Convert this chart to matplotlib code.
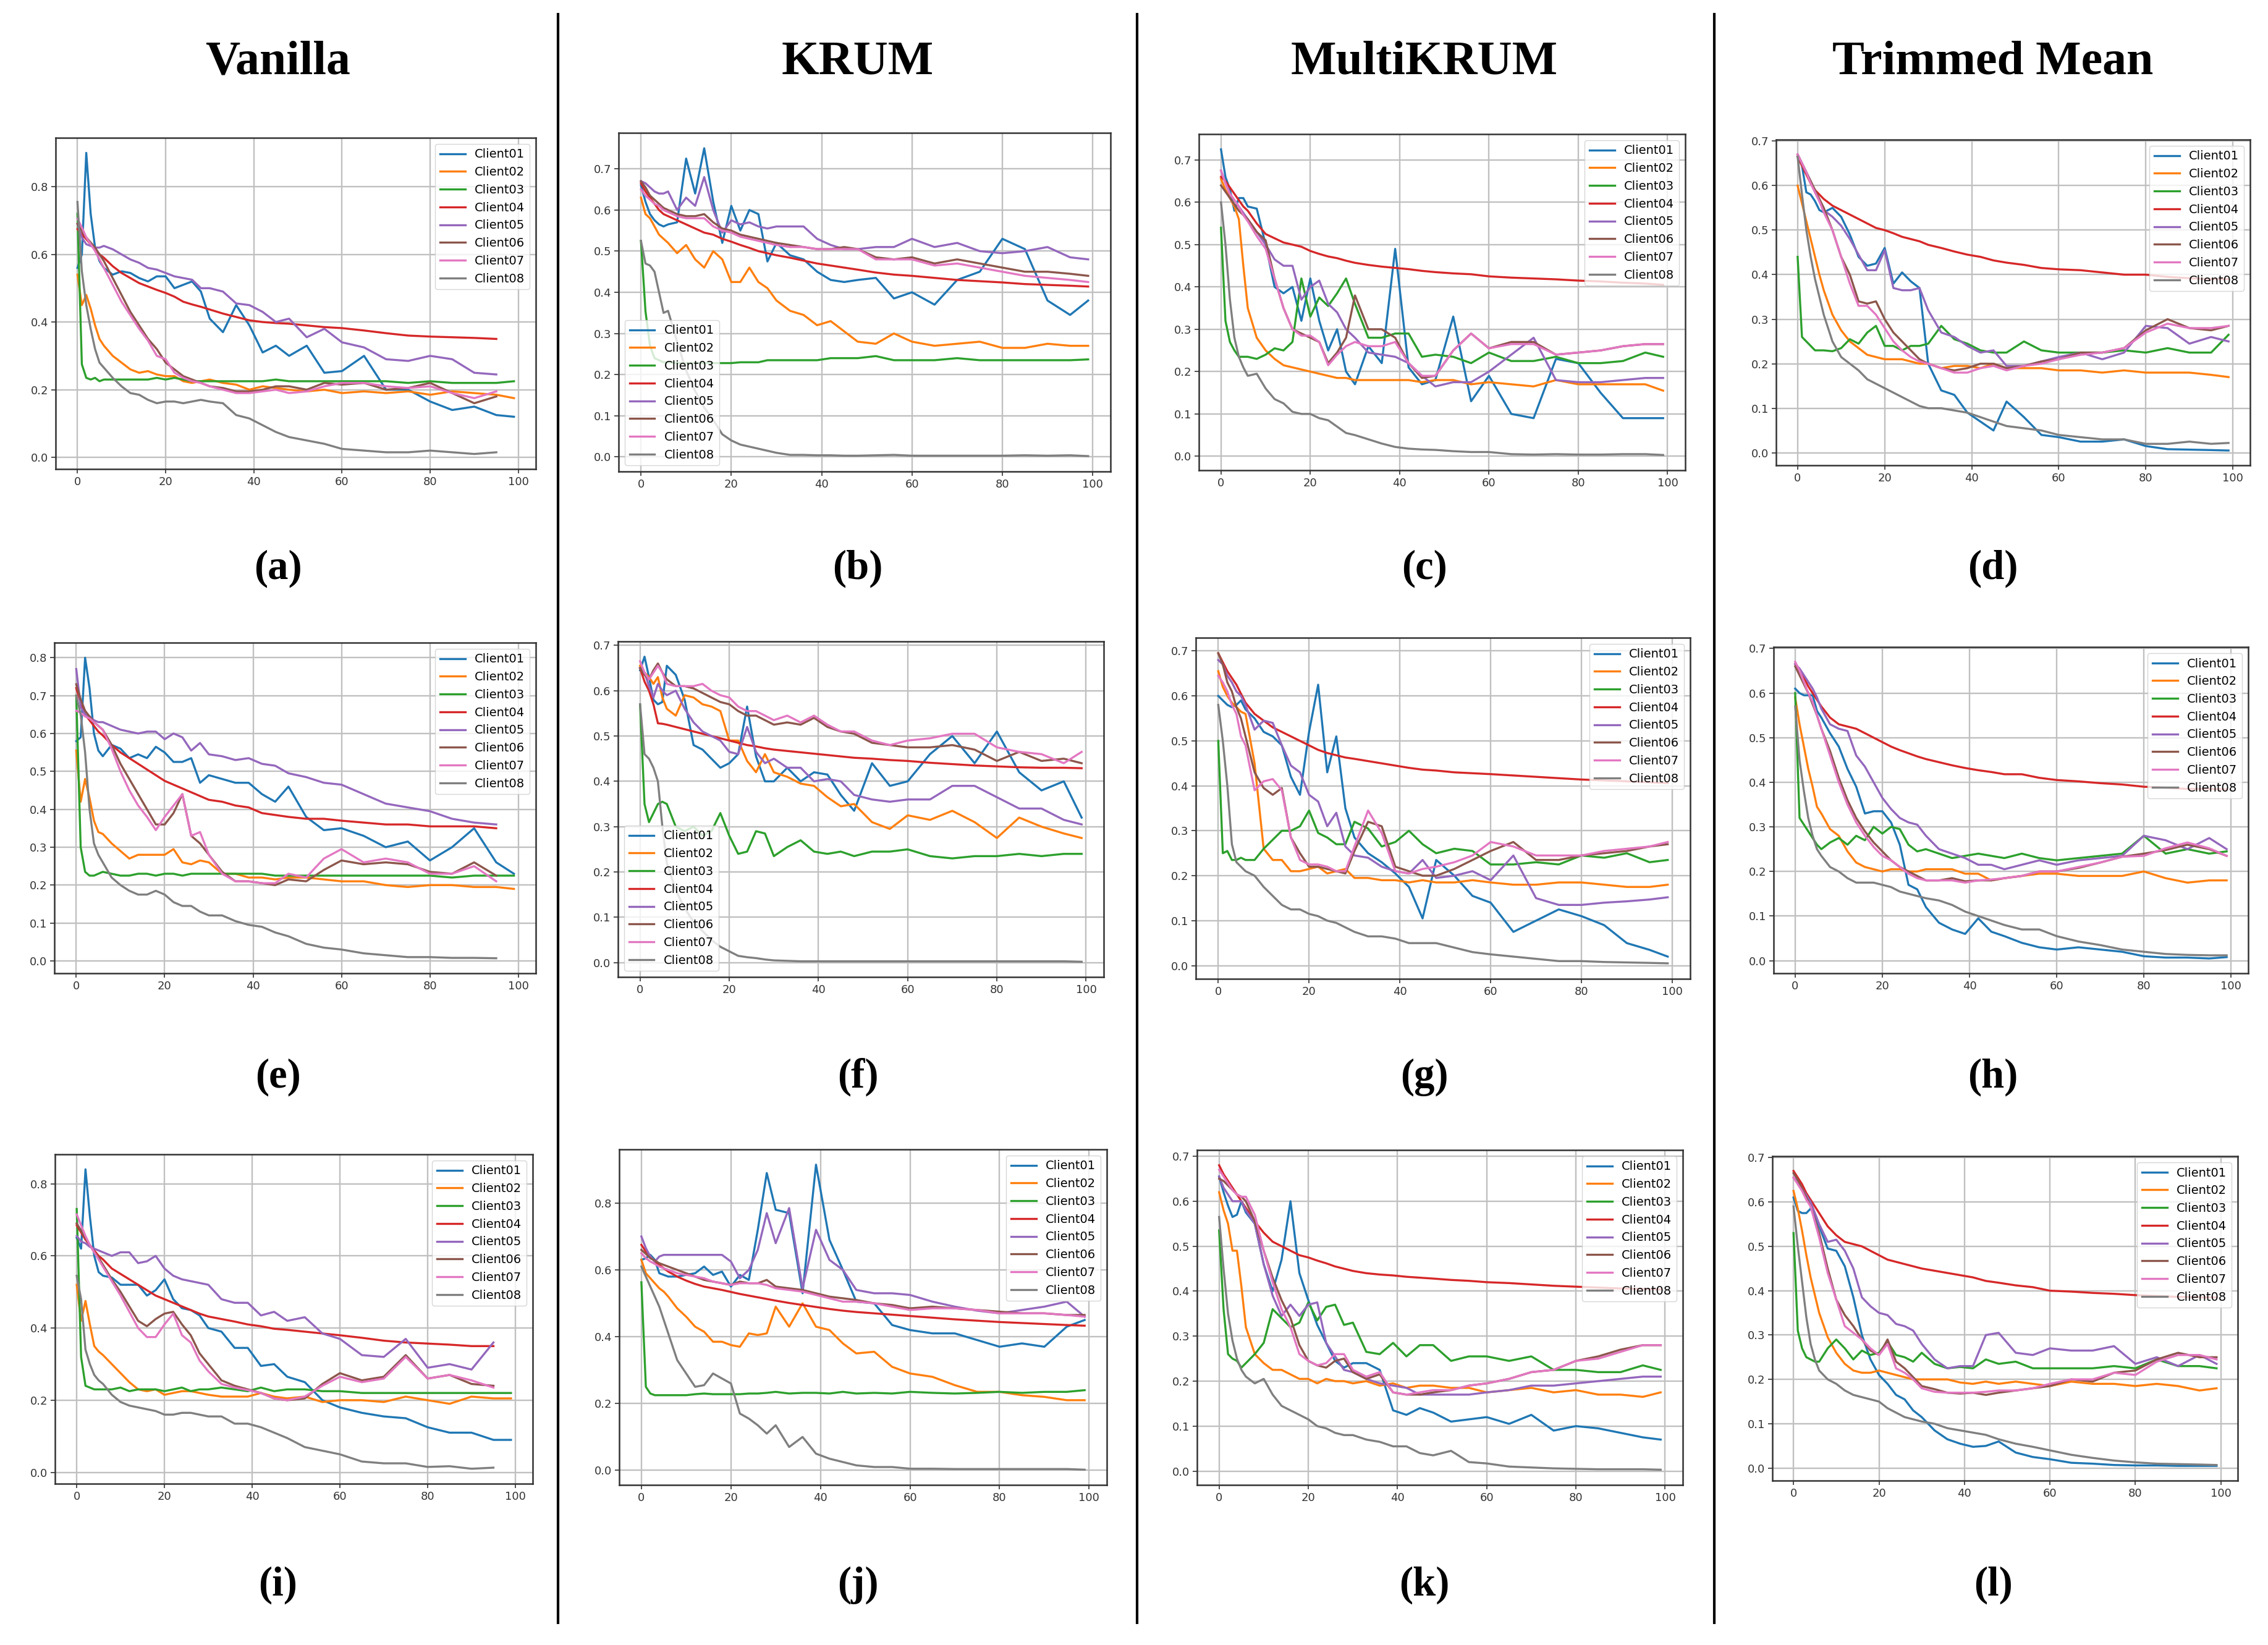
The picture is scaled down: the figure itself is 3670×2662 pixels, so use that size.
import numpy as np
import matplotlib
matplotlib.use("Agg")
import matplotlib.pyplot as plt
from matplotlib.ticker import MultipleLocator

nan = float("nan")

# shared sampling of the training rounds
X = [0, 1, 2, 3, 4, 5, 6, 8, 10, 12, 14, 16, 18, 20, 22, 24, 26, 28, 30,
     33, 36, 39, 42, 45, 48, 52, 56, 60, 65, 70, 75, 80, 85, 90, 95, 99]

CLIENTS = ["Client01", "Client02", "Client03", "Client04",
           "Client05", "Client06", "Client07", "Client08"]
COLUMN_TITLES = ["Vanilla", "KRUM", "MultiKRUM", "Trimmed Mean"]
PANEL_LABELS = ["(a)", "(b)", "(c)", "(d)", "(e)", "(f)",
                "(g)", "(h)", "(i)", "(j)", "(k)", "(l)"]

# ---------------- (a) Vanilla, row 1
a01 = [0.56,0.60,0.90,0.72,0.62,0.58,0.56, 0.54,0.55,0.545,0.53,0.52,0.535,0.535,0.50,0.51,0.52,0.49,0.41, 0.37,0.45,0.39,0.31,0.33,0.30, 0.33,0.25,0.255, 0.30,0.20,0.20,0.165,0.14,0.15,0.125,0.12]
a02 = [0.54,0.45,0.48,0.44,0.39,0.35,0.33, 0.30,0.28,0.26,0.25,0.255,0.245,0.24,0.24,0.225,0.22,0.225,0.23, 0.22,0.215,0.20,0.21,0.205,0.20, 0.195,0.20,0.19, 0.195,0.19,0.195,0.185,0.195,0.19,0.185,0.175]
a03 = [0.72,0.275,0.235,0.23,0.235,0.225,0.23, 0.23,0.23,0.23,0.23,0.23,0.235,0.23,0.235,0.23,0.225,0.225,0.225, 0.225,0.225,0.225,0.225,0.23,0.225, 0.225,0.225,0.225, 0.225,0.225,0.22,0.225,0.22,0.22,0.22,0.225]
a04 = [0.675,0.66,0.645,0.63,0.615,0.60,0.59, 0.565,0.545,0.53,0.515,0.505,0.495,0.486,0.475,0.46,0.452,0.445,0.437, 0.425,0.415,0.405,0.40,0.397,0.395, 0.39,0.385,0.382, 0.375,0.367,0.36,0.357,0.355,0.353,0.35,nan]
a05 = [0.69,0.65,0.63,0.625,0.62,0.62,0.625, 0.615,0.60,0.585,0.575,0.56,0.555,0.545,0.535,0.53,0.525,0.50,0.50, 0.49,0.455,0.45,0.43,0.40,0.41, 0.355,0.38,0.34, 0.325,0.29,0.285,0.30,0.29,0.25,0.245,nan]
a06 = [0.69,0.67,0.65,0.635,0.62,0.60,0.58, 0.53,0.48,0.43,0.39,0.35,0.32,0.28,0.26,0.24,0.23,0.22,0.21, 0.205,0.195,0.195,0.20,0.21,0.21, 0.20,0.22,0.215, 0.22,0.20,0.205,0.22,0.19,0.16,0.18,nan]
a07 = [0.705,0.68,0.65,0.63,0.61,0.585,0.56, 0.51,0.46,0.42,0.38,0.345,0.30,0.29,0.25,0.235,0.225,0.22,0.21, 0.20,0.19,0.19,0.195,0.20,0.19, 0.195,0.21,0.22, 0.22,0.21,0.205,0.21,0.19,0.175,0.195,nan]
a08 = [0.755,0.55,0.45,0.38,0.32,0.28,0.265, 0.235,0.21,0.19,0.185,0.17,0.16,0.165,0.165,0.16,0.165,0.17,0.165, 0.16,0.125,0.115,0.095,0.075,0.06, 0.05,0.04,0.025, 0.02,0.015,0.015,0.02,0.015,0.01,0.015,nan]

# ---------------- (b) KRUM, row 1
b01 = [0.66,0.62,0.59,0.575,0.565,0.56,0.565, 0.57,0.725,0.64,0.75,0.62,0.52,0.61,0.55,0.60,0.59,0.475,0.52, 0.49,0.48,0.45,0.43,0.425,0.43, 0.435,0.385,0.40, 0.37,0.43,0.45,0.53,0.505,0.38,0.345,0.38]
b02 = [0.63,0.59,0.58,0.56,0.54,0.53,0.52, 0.495,0.515,0.48,0.46,0.50,0.48,0.425,0.425,0.46,0.425,0.41,0.38, 0.355,0.345,0.32,0.33,0.305,0.28, 0.275,0.30,0.28, 0.27,0.275,0.28,0.265,0.265,0.275,0.27,0.27]
b03 = [0.525,0.354,0.27,0.24,0.235,0.23,0.23, 0.228,0.228,0.228,0.228,0.228,0.228,0.228,0.23,0.23,0.23,0.235,0.235, 0.235,0.235,0.235,0.24,0.24,0.24, 0.245,0.235,0.235, 0.235,0.24,0.235,0.235,0.235,0.235,0.235,0.237]
b04 = [0.665,0.645,0.63,0.615,0.60,0.59,0.585, 0.575,0.565,0.555,0.545,0.54,0.53,0.523,0.515,0.508,0.50,0.495,0.49, 0.484,0.477,0.47,0.465,0.46,0.455, 0.448,0.443,0.44, 0.435,0.43,0.427,0.424,0.42,0.418,0.416,0.414]
b05 = [0.67,0.665,0.655,0.645,0.64,0.64,0.645, 0.60,0.63,0.61,0.68,0.60,0.545,0.575,0.565,0.57,0.56,0.555,0.56, 0.56,0.56,0.53,0.515,0.505,0.505, 0.51,0.51,0.53, 0.51,0.52,0.50,0.495,0.50,0.51,0.485,0.48]
b06 = [0.67,0.655,0.635,0.625,0.615,0.605,0.60, 0.59,0.585,0.585,0.59,0.57,0.555,0.55,0.54,0.535,0.53,0.525,0.52, 0.515,0.51,0.505,0.505,0.51,0.505, 0.485,0.48,0.485, 0.47,0.48,0.47,0.46,0.45,0.45,0.445,0.44]
b07 = [0.65,0.635,0.625,0.615,0.61,0.60,0.595, 0.585,0.58,0.58,0.58,0.56,0.55,0.545,0.535,0.53,0.525,0.52,0.515, 0.51,0.51,0.505,0.505,0.505,0.505, 0.48,0.48,0.48, 0.465,0.47,0.46,0.45,0.44,0.435,0.43,0.425]
b08 = [0.525,0.47,0.465,0.45,0.40,0.35,0.355, 0.28,0.21,0.16,0.12,0.09,0.055,0.04,0.03,0.025,0.02,0.015,0.01, 0.005,0.005,0.004,0.004,0.003,0.003, 0.004,0.005,0.003, 0.003,0.003,0.003,0.003,0.004,0.003,0.004,0.002]

# ---------------- (c) MultiKRUM, row 1
c01 = [0.725,0.66,0.63,0.58,0.61,0.61,0.59, 0.585,0.50,0.40,0.385,0.40,0.32,0.42,0.32,0.25,0.30,0.20,0.17, 0.26,0.22,0.49,0.21,0.17,0.18, 0.33,0.13,0.19, 0.10,0.09,0.23,0.22,0.15,0.09,0.09,0.09]
c02 = [0.655,0.63,0.61,0.59,0.56,0.45,0.35, 0.28,0.25,0.23,0.215,0.21,0.205,0.20,0.195,0.19,0.185,0.185,0.18, 0.18,0.18,0.18,0.18,0.175,0.18, 0.18,0.17,0.175, 0.17,0.165,0.18,0.17,0.17,0.17,0.17,0.155]
c03 = [0.54,0.32,0.27,0.25,0.235,0.235,0.235, 0.23,0.24,0.255,0.25,0.27,0.42,0.33,0.375,0.355,0.385,0.42,0.36, 0.28,0.28,0.29,0.29,0.235,0.24, 0.235,0.22,0.245, 0.225,0.225,0.235,0.22,0.22,0.225,0.245,0.235]
c04 = [0.66,0.65,0.635,0.62,0.605,0.59,0.58, 0.55,0.525,0.515,0.505,0.50,0.495,0.485,0.478,0.472,0.468,0.462,0.457, 0.452,0.448,0.445,0.442,0.438,0.435, 0.432,0.43,0.425, 0.422,0.42,0.418,0.415,0.413,0.41,0.408,0.405]
c05 = [0.675,0.645,0.62,0.605,0.59,0.575,0.56, 0.53,0.50,0.465,0.45,0.45,0.37,0.40,0.415,0.36,0.34,0.30,0.28, 0.245,0.24,0.235,0.22,0.19,0.165, 0.175,0.175,0.20, 0.24,0.28,0.18,0.175,0.175,0.18,0.185,0.185]
c06 = [0.64,0.625,0.61,0.595,0.58,0.57,0.56, 0.53,0.51,0.42,0.35,0.30,0.29,0.28,0.27,0.22,0.245,0.28,0.38, 0.30,0.30,0.28,0.22,0.185,0.19, 0.25,0.29,0.255, 0.27,0.27,0.24,0.245,0.25,0.26,0.265,0.265]
c07 = [0.675,0.645,0.62,0.605,0.59,0.57,0.555, 0.52,0.49,0.42,0.35,0.30,0.285,0.285,0.27,0.215,0.24,0.26,0.27, 0.26,0.26,0.27,0.22,0.19,0.19, 0.25,0.29,0.255, 0.265,0.265,0.24,0.245,0.25,0.26,0.265,0.265]
c08 = [0.60,0.50,0.37,0.28,0.235,0.21,0.19, 0.195,0.16,0.135,0.125,0.105,0.10,0.10,0.09,0.085,0.07,0.055,0.05, 0.04,0.03,0.022,0.018,0.016,0.015, 0.012,0.01,0.01, 0.005,0.004,0.005,0.004,0.004,0.005,0.005,0.003]

# ---------------- (d) Trimmed Mean, row 1
d01 = [0.665,0.645,0.585,0.58,0.565,0.545,0.54, 0.55,0.53,0.49,0.44,0.42,0.425,0.46,0.38,0.405,0.385,0.37,0.20, 0.14,0.13,0.09,0.07,0.05,0.115, 0.08,0.04,0.035, 0.025,0.025,0.03,0.015,0.008,0.007,0.006,0.005]
d02 = [0.60,0.56,0.52,0.48,0.44,0.40,0.365, 0.31,0.275,0.25,0.235,0.22,0.215,0.21,0.21,0.21,0.205,0.20,0.20, 0.19,0.195,0.195,0.19,0.20,0.19, 0.19,0.19,0.185, 0.185,0.18,0.185,0.18,0.18,0.18,0.175,0.17]
d03 = [0.44,0.26,0.25,0.24,0.23,0.23,0.23, 0.228,0.235,0.255,0.245,0.27,0.285,0.24,0.24,0.23,0.24,0.24,0.245, 0.285,0.255,0.245,0.23,0.225,0.225, 0.25,0.23,0.225, 0.225,0.225,0.23,0.225,0.235,0.225,0.225,0.265]
d04 = [0.665,0.645,0.625,0.605,0.59,0.58,0.57, 0.555,0.545,0.535,0.525,0.515,0.505,0.50,0.493,0.485,0.48,0.475,0.467, 0.46,0.452,0.445,0.44,0.432,0.427, 0.422,0.415,0.412, 0.41,0.405,0.40,0.40,0.395,0.392,0.39,0.39]
d05 = [0.67,0.65,0.63,0.61,0.585,0.565,0.545, 0.53,0.51,0.48,0.445,0.41,0.41,0.455,0.37,0.365,0.365,0.37,0.32, 0.27,0.26,0.24,0.225,0.23,0.195, 0.195,0.205,0.215, 0.225,0.21,0.225,0.285,0.28,0.245,0.26,0.25]
d06 = [0.67,0.65,0.63,0.61,0.59,0.57,0.55, 0.50,0.44,0.40,0.34,0.335,0.34,0.30,0.27,0.25,0.23,0.21,0.20, 0.19,0.185,0.19,0.20,0.20,0.19, 0.195,0.205,0.21, 0.225,0.225,0.235,0.275,0.30,0.28,0.275,0.285]
d07 = [0.67,0.65,0.63,0.605,0.585,0.565,0.54, 0.50,0.44,0.38,0.33,0.33,0.31,0.28,0.25,0.23,0.215,0.205,0.20, 0.19,0.18,0.18,0.19,0.195,0.185, 0.195,0.20,0.21, 0.22,0.225,0.235,0.27,0.29,0.28,0.28,0.285]
d08 = [0.665,0.58,0.50,0.44,0.39,0.35,0.31, 0.25,0.215,0.20,0.185,0.165,0.155,0.145,0.135,0.125,0.115,0.105,0.10, 0.10,0.095,0.09,0.08,0.07,0.06, 0.055,0.05,0.04, 0.035,0.03,0.03,0.02,0.02,0.025,0.02,0.022]

# ---------------- (e) Vanilla, row 2
e01 = [0.58,0.59,0.80,0.72,0.60,0.555,0.54, 0.57,0.56,0.535,0.545,0.535,0.565,0.55,0.525,0.525,0.535,0.47,0.49, 0.48,0.47,0.47,0.44,0.42,0.46, 0.38,0.345,0.35, 0.33,0.30,0.315,0.265,0.30,0.35,0.26,0.23]
e02 = [0.555,0.42,0.48,0.43,0.37,0.34,0.335, 0.31,0.29,0.27,0.28,0.28,0.28,0.28,0.295,0.26,0.255,0.265,0.26, 0.23,0.23,0.22,0.22,0.215,0.22, 0.22,0.215,0.21, 0.21,0.20,0.195,0.20,0.20,0.195,0.195,0.19]
e03 = [0.70,0.30,0.235,0.225,0.225,0.23,0.235, 0.23,0.225,0.225,0.23,0.23,0.225,0.23,0.23,0.225,0.23,0.23,0.23, 0.23,0.23,0.23,0.23,0.225,0.225, 0.225,0.225,0.225, 0.225,0.225,0.225,0.225,0.22,0.225,0.225,0.225]
e04 = [0.72,0.68,0.65,0.635,0.62,0.605,0.595, 0.57,0.55,0.535,0.52,0.505,0.49,0.475,0.465,0.455,0.445,0.435,0.425, 0.42,0.41,0.405,0.39,0.385,0.38, 0.375,0.375,0.37, 0.365,0.36,0.36,0.355,0.355,0.355,0.35,nan]
e05 = [0.77,0.67,0.65,0.645,0.635,0.63,0.63, 0.62,0.61,0.605,0.60,0.605,0.605,0.585,0.60,0.59,0.555,0.575,0.545, 0.54,0.53,0.535,0.52,0.515,0.495, 0.485,0.47,0.465, 0.44,0.415,0.405,0.395,0.375,0.365,0.36,nan]
e06 = [0.73,0.69,0.66,0.645,0.63,0.62,0.61, 0.57,0.52,0.48,0.44,0.40,0.36,0.36,0.39,0.44,0.33,0.31,0.28, 0.235,0.21,0.21,0.205,0.20,0.215, 0.21,0.24,0.265, 0.255,0.26,0.255,0.235,0.23,0.26,0.225,nan]
e07 = [0.66,0.655,0.645,0.64,0.63,0.62,0.61, 0.56,0.50,0.45,0.41,0.38,0.345,0.38,0.41,0.44,0.33,0.34,0.28, 0.23,0.21,0.21,0.205,0.205,0.23, 0.22,0.27,0.295, 0.26,0.27,0.26,0.23,0.23,0.25,0.21,nan]
e08 = [0.70,0.65,0.55,0.40,0.31,0.28,0.26, 0.22,0.20,0.185,0.175,0.175,0.185,0.175,0.155,0.145,0.145,0.13,0.12, 0.12,0.105,0.095,0.09,0.075,0.065, 0.045,0.035,0.03, 0.02,0.015,0.01,0.01,0.008,0.008,0.007,nan]

# ---------------- (f) KRUM, row 2
f01 = [0.645,0.675,0.63,0.58,0.57,0.575,0.655, 0.635,0.58,0.48,0.47,0.45,0.43,0.44,0.46,0.565,0.455,0.40,0.40, 0.43,0.40,0.42,0.415,0.37,0.335, 0.44,0.39,0.40, 0.46,0.50,0.44,0.51,0.42,0.38,0.40,0.32]
f02 = [0.655,0.64,0.63,0.615,0.63,0.585,0.56, 0.545,0.59,0.585,0.57,0.565,0.555,0.49,0.49,0.445,0.42,0.46,0.42, 0.41,0.395,0.39,0.365,0.345,0.35, 0.31,0.295,0.325, 0.315,0.335,0.31,0.275,0.32,0.30,0.285,0.275]
f03 = [0.57,0.35,0.31,0.33,0.35,0.355,0.35, 0.30,0.29,0.30,0.28,0.29,0.33,0.28,0.24,0.245,0.29,0.285,0.235, 0.255,0.27,0.245,0.24,0.245,0.235, 0.245,0.245,0.25, 0.235,0.23,0.235,0.235,0.24,0.235,0.24,0.24]
f04 = [0.65,0.62,0.60,0.57,0.528,0.527,0.525, 0.52,0.515,0.51,0.505,0.50,0.495,0.49,0.485,0.48,0.477,0.473,0.47, 0.467,0.464,0.461,0.458,0.455,0.452, 0.45,0.447,0.445, 0.441,0.438,0.435,0.433,0.431,0.43,0.43,0.429]
f05 = [0.65,0.64,0.61,0.585,0.615,0.60,0.59, 0.60,0.56,0.53,0.51,0.50,0.49,0.465,0.46,0.52,0.465,0.44,0.45, 0.43,0.43,0.40,0.405,0.40,0.37, 0.36,0.355,0.36, 0.36,0.39,0.39,0.365,0.34,0.34,0.315,0.305]
f06 = [0.65,0.635,0.625,0.645,0.66,0.64,0.625, 0.61,0.61,0.605,0.595,0.585,0.575,0.57,0.555,0.545,0.545,0.535,0.525, 0.53,0.525,0.54,0.52,0.51,0.505, 0.485,0.48,0.475, 0.475,0.48,0.47,0.445,0.465,0.445,0.45,0.44]
f07 = [0.665,0.64,0.625,0.64,0.655,0.64,0.615, 0.61,0.61,0.61,0.615,0.60,0.59,0.585,0.565,0.555,0.555,0.545,0.535, 0.545,0.53,0.545,0.525,0.51,0.51, 0.49,0.48,0.49, 0.495,0.505,0.505,0.475,0.465,0.46,0.44,0.465]
f08 = [0.57,0.46,0.45,0.43,0.40,0.30,0.22, 0.16,0.12,0.09,0.07,0.05,0.035,0.025,0.015,0.012,0.01,0.007,0.005, 0.004,0.003,0.003,0.003,0.003,0.003, 0.003,0.003,0.003, 0.003,0.003,0.003,0.003,0.003,0.003,0.003,0.002]

# ---------------- (g) MultiKRUM, row 2
g01 = [0.60,0.59,0.58,0.575,0.58,0.59,0.57, 0.55,0.52,0.51,0.49,0.42,0.38,0.52,0.625,0.43,0.51,0.35,0.285, 0.25,0.23,0.205,0.175,0.105,0.235, 0.20,0.155,0.14, 0.075,0.10,0.125,0.11,0.09,0.05,0.035,0.02]
g02 = [0.655,0.62,0.60,0.585,0.575,0.565,0.56, 0.45,0.26,0.235,0.235,0.21,0.21,0.215,0.22,0.205,0.21,0.215,0.195, 0.195,0.19,0.19,0.185,0.19,0.185, 0.185,0.19,0.185, 0.18,0.18,0.185,0.185,0.18,0.175,0.175,0.18]
g03 = [0.50,0.25,0.255,0.235,0.235,0.24,0.235, 0.235,0.26,0.28,0.30,0.30,0.31,0.345,0.295,0.285,0.27,0.27,0.32, 0.305,0.265,0.275,0.30,0.27,0.25, 0.26,0.255,0.225, 0.225,0.23,0.225,0.245,0.24,0.25,0.23,0.235]
g04 = [0.695,0.675,0.655,0.64,0.625,0.605,0.585, 0.56,0.545,0.53,0.52,0.51,0.50,0.49,0.48,0.473,0.468,0.463,0.46, 0.455,0.45,0.445,0.44,0.436,0.434, 0.43,0.428,0.426, 0.423,0.42,0.417,0.414,0.412,0.41,0.408,0.406]
g05 = [0.68,0.67,0.645,0.63,0.61,0.60,0.58, 0.525,0.545,0.54,0.49,0.445,0.43,0.38,0.365,0.31,0.34,0.265,0.245, 0.24,0.22,0.21,0.205,0.235,0.195, 0.20,0.21,0.19, 0.245,0.15,0.135,0.135,0.14,0.143,0.147,0.152]
g06 = [0.695,0.67,0.63,0.61,0.575,0.55,0.51, 0.43,0.395,0.38,0.395,0.285,0.25,0.22,0.22,0.215,0.21,0.205,0.255, 0.32,0.31,0.22,0.21,0.20,0.20, 0.215,0.235,0.255, 0.275,0.235,0.235,0.245,0.25,0.255,0.265,0.27]
g07 = [0.645,0.63,0.61,0.58,0.56,0.51,0.49, 0.39,0.41,0.415,0.39,0.285,0.235,0.225,0.225,0.22,0.21,0.21,0.265, 0.345,0.295,0.21,0.205,0.215,0.22, 0.23,0.245,0.275, 0.265,0.245,0.245,0.245,0.255,0.26,0.265,0.275]
g08 = [0.58,0.50,0.40,0.27,0.23,0.22,0.21, 0.20,0.175,0.155,0.135,0.125,0.125,0.115,0.11,0.10,0.095,0.085,0.075, 0.065,0.065,0.06,0.05,0.05,0.05, 0.04,0.03,0.025, 0.02,0.015,0.01,0.01,0.008,0.007,0.006,0.005]

# ---------------- (h) Trimmed Mean, row 2
h01 = [0.61,0.60,0.595,0.595,0.595,0.56,0.545, 0.51,0.48,0.43,0.39,0.33,0.335,0.335,0.31,0.26,0.17,0.16,0.12, 0.085,0.07,0.06,0.095,0.065,0.055, 0.04,0.03,0.025, 0.03,0.025,0.02,0.01,0.007,0.007,0.005,0.008]
h02 = [0.59,0.53,0.48,0.43,0.39,0.345,0.33, 0.295,0.28,0.245,0.22,0.21,0.205,0.20,0.205,0.205,0.20,0.20,0.205, 0.205,0.205,0.195,0.195,0.18,0.185, 0.19,0.195,0.195, 0.19,0.19,0.19,0.20,0.185,0.175,0.18,0.18]
h03 = [0.60,0.32,0.305,0.29,0.275,0.26,0.25, 0.265,0.275,0.26,0.28,0.27,0.30,0.285,0.30,0.295,0.26,0.245,0.25, 0.24,0.23,0.235,0.24,0.235,0.23, 0.24,0.23,0.225, 0.23,0.235,0.24,0.28,0.24,0.25,0.24,0.245]
h04 = [0.665,0.65,0.635,0.615,0.60,0.585,0.57, 0.545,0.53,0.525,0.52,0.51,0.50,0.49,0.48,0.472,0.465,0.458,0.452, 0.445,0.438,0.432,0.427,0.423,0.418, 0.418,0.41,0.405, 0.402,0.398,0.395,0.39,0.388,0.385,0.385,0.384]
h05 = [0.665,0.655,0.64,0.625,0.61,0.59,0.565, 0.53,0.52,0.515,0.46,0.435,0.40,0.365,0.34,0.32,0.31,0.305,0.28, 0.25,0.24,0.23,0.215,0.215,0.205, 0.215,0.225,0.215, 0.225,0.23,0.235,0.28,0.27,0.25,0.275,0.25]
h06 = [0.66,0.64,0.62,0.60,0.575,0.55,0.52, 0.47,0.41,0.36,0.32,0.29,0.265,0.245,0.225,0.21,0.20,0.19,0.18, 0.18,0.185,0.178,0.18,0.18,0.185, 0.19,0.20,0.20, 0.208,0.22,0.233,0.24,0.248,0.26,0.25,0.235]
h07 = [0.67,0.65,0.625,0.60,0.58,0.55,0.52, 0.46,0.40,0.35,0.31,0.28,0.255,0.235,0.225,0.21,0.195,0.185,0.18, 0.18,0.18,0.175,0.18,0.182,0.185, 0.19,0.20,0.20, 0.21,0.22,0.233,0.235,0.252,0.265,0.252,0.235]
h08 = [0.57,0.45,0.38,0.32,0.28,0.25,0.235, 0.21,0.20,0.185,0.175,0.175,0.175,0.17,0.165,0.155,0.15,0.145,0.14, 0.135,0.125,0.11,0.10,0.09,0.08, 0.07,0.07,0.055, 0.043,0.035,0.025,0.02,0.015,0.013,0.012,0.012]

# ---------------- (i) Vanilla, row 3
i01 = [0.65,0.62,0.84,0.71,0.60,0.555,0.545, 0.54,0.52,0.52,0.52,0.49,0.505,0.535,0.48,0.455,0.45,0.435,0.40, 0.39,0.345,0.345,0.295,0.30,0.265, 0.25,0.20,0.18, 0.165,0.155,0.15,0.125,0.11,0.11,0.09,0.09]
i02 = [0.52,0.42,0.475,0.41,0.35,0.335,0.325, 0.30,0.275,0.25,0.23,0.225,0.23,0.215,0.22,0.225,0.225,0.22,0.215, 0.21,0.21,0.21,0.22,0.21,0.205, 0.21,0.195,0.20, 0.20,0.195,0.21,0.20,0.19,0.21,0.205,0.205]
i03 = [0.73,0.32,0.24,0.235,0.23,0.23,0.23, 0.23,0.235,0.225,0.23,0.23,0.23,0.225,0.23,0.235,0.225,0.23,0.23, 0.235,0.23,0.225,0.235,0.225,0.23, 0.23,0.225,0.225, 0.22,0.22,0.22,0.22,0.22,0.22,0.22,0.22]
i04 = [0.685,0.665,0.645,0.63,0.615,0.60,0.59, 0.565,0.55,0.535,0.52,0.505,0.49,0.48,0.47,0.46,0.45,0.44,0.432, 0.425,0.418,0.41,0.405,0.398,0.395, 0.39,0.385,0.38, 0.373,0.365,0.36,0.357,0.354,0.35,0.35,nan]
i05 = [0.655,0.64,0.635,0.625,0.62,0.615,0.61, 0.60,0.61,0.61,0.58,0.585,0.60,0.565,0.545,0.535,0.53,0.525,0.52, 0.48,0.47,0.47,0.435,0.445,0.42, 0.43,0.385,0.37, 0.325,0.32,0.37,0.29,0.30,0.285,0.36,nan]
i06 = [0.69,0.67,0.65,0.63,0.61,0.595,0.575, 0.535,0.50,0.46,0.42,0.405,0.425,0.44,0.445,0.41,0.38,0.33,0.30, 0.255,0.24,0.23,0.22,0.205,0.20, 0.205,0.245,0.275, 0.255,0.265,0.325,0.26,0.27,0.245,0.24,nan]
i07 = [0.715,0.685,0.655,0.63,0.61,0.59,0.57, 0.53,0.49,0.445,0.40,0.375,0.375,0.41,0.44,0.38,0.36,0.31,0.28, 0.245,0.235,0.228,0.22,0.205,0.20, 0.21,0.24,0.265, 0.25,0.26,0.32,0.26,0.27,0.255,0.235,nan]
i08 = [0.545,0.48,0.34,0.30,0.27,0.255,0.245, 0.215,0.195,0.185,0.18,0.175,0.17,0.16,0.16,0.165,0.165,0.16,0.155, 0.155,0.135,0.135,0.125,0.11,0.095, 0.07,0.06,0.05, 0.03,0.025,0.025,0.015,0.017,0.01,0.013,nan]

# ---------------- (j) KRUM, row 3
j01 = [0.63,0.635,0.645,0.63,0.59,0.585,0.58, 0.58,0.585,0.59,0.61,0.585,0.595,0.55,0.585,0.57,0.72,0.89,0.78, 0.77,0.53,0.915,0.69,0.60,0.505, 0.50,0.435,0.42, 0.41,0.41,0.39,0.37,0.38,0.37,0.43,0.45]
j02 = [0.63,0.59,0.575,0.56,0.545,0.535,0.52, 0.485,0.46,0.43,0.415,0.385,0.385,0.375,0.37,0.41,0.405,0.41,0.49, 0.43,0.50,0.43,0.42,0.38,0.35, 0.355,0.31,0.29, 0.28,0.255,0.235,0.235,0.225,0.22,0.21,0.21]
j03 = [0.563,0.25,0.23,0.225,0.225,0.225,0.225, 0.225,0.225,0.228,0.23,0.228,0.228,0.228,0.228,0.23,0.23,0.232,0.235, 0.23,0.232,0.232,0.23,0.235,0.23, 0.232,0.23,0.235, 0.232,0.23,0.232,0.235,0.232,0.235,0.235,0.24]
j04 = [0.675,0.655,0.64,0.625,0.615,0.605,0.595, 0.58,0.568,0.558,0.55,0.545,0.54,0.534,0.528,0.523,0.518,0.513,0.508, 0.501,0.495,0.489,0.483,0.478,0.474, 0.47,0.466,0.462, 0.457,0.452,0.448,0.444,0.441,0.438,0.435,0.433]
j05 = [0.70,0.665,0.64,0.625,0.64,0.645,0.645, 0.645,0.645,0.645,0.645,0.645,0.645,0.625,0.575,0.60,0.66,0.77,0.68, 0.785,0.545,0.72,0.63,0.60,0.54, 0.53,0.53,0.525, 0.505,0.49,0.478,0.47,0.48,0.49,0.505,0.46]
j06 = [0.66,0.648,0.635,0.628,0.62,0.615,0.61, 0.60,0.59,0.58,0.57,0.565,0.56,0.555,0.565,0.56,0.56,0.57,0.55, 0.545,0.54,0.53,0.52,0.515,0.51, 0.50,0.495,0.485, 0.49,0.485,0.48,0.475,0.47,0.47,0.465,0.465]
j07 = [0.65,0.635,0.625,0.618,0.61,0.605,0.60, 0.59,0.585,0.58,0.575,0.565,0.56,0.555,0.56,0.56,0.56,0.555,0.545, 0.54,0.535,0.525,0.515,0.505,0.505, 0.50,0.49,0.48, 0.485,0.485,0.48,0.47,0.47,0.47,0.465,0.46]
j08 = [0.61,0.58,0.55,0.52,0.49,0.45,0.41, 0.33,0.29,0.25,0.255,0.29,0.275,0.26,0.17,0.155,0.135,0.11,0.135, 0.07,0.10,0.05,0.035,0.025,0.015, 0.01,0.01,0.005, 0.005,0.004,0.004,0.004,0.004,0.004,0.004,0.002]

# ---------------- (k) MultiKRUM, row 3
k01 = [0.655,0.62,0.59,0.565,0.57,0.60,0.575, 0.55,0.46,0.40,0.47,0.60,0.44,0.38,0.325,0.285,0.245,0.23,0.24, 0.24,0.225,0.135,0.125,0.14,0.13, 0.11,0.115,0.12, 0.105,0.125,0.09,0.10,0.095,0.085,0.075,0.07]
k02 = [0.62,0.58,0.55,0.49,0.49,0.41,0.32, 0.26,0.24,0.225,0.225,0.215,0.205,0.205,0.195,0.205,0.20,0.20,0.195, 0.20,0.19,0.195,0.185,0.19,0.19, 0.185,0.185,0.175, 0.18,0.185,0.175,0.18,0.17,0.17,0.165,0.175]
k03 = [0.535,0.36,0.26,0.25,0.245,0.23,0.24, 0.26,0.285,0.36,0.34,0.32,0.33,0.375,0.335,0.365,0.37,0.325,0.33, 0.265,0.26,0.285,0.255,0.28,0.28, 0.245,0.255,0.255, 0.245,0.255,0.225,0.225,0.22,0.22,0.235,0.225]
k04 = [0.68,0.66,0.645,0.63,0.615,0.60,0.585, 0.555,0.53,0.51,0.50,0.49,0.48,0.475,0.468,0.462,0.455,0.45,0.445, 0.44,0.437,0.435,0.432,0.43,0.428, 0.425,0.423,0.42, 0.418,0.415,0.412,0.41,0.408,0.406,0.405,0.404]
k05 = [0.655,0.63,0.615,0.60,0.60,0.60,0.58, 0.55,0.46,0.39,0.345,0.37,0.345,0.37,0.375,0.285,0.255,0.225,0.22, 0.205,0.195,0.19,0.185,0.17,0.17, 0.17,0.17,0.175, 0.18,0.19,0.19,0.195,0.20,0.205,0.21,0.21]
k06 = [0.65,0.645,0.635,0.625,0.615,0.61,0.60, 0.555,0.49,0.43,0.38,0.34,0.28,0.245,0.235,0.23,0.245,0.25,0.22, 0.205,0.215,0.175,0.17,0.17,0.175, 0.18,0.19,0.195, 0.205,0.22,0.225,0.245,0.255,0.27,0.28,0.28]
k07 = [0.67,0.655,0.64,0.625,0.615,0.61,0.61, 0.57,0.49,0.42,0.36,0.32,0.26,0.245,0.235,0.24,0.26,0.26,0.225, 0.21,0.22,0.175,0.17,0.175,0.18, 0.18,0.19,0.195, 0.205,0.22,0.225,0.245,0.25,0.265,0.28,0.28]
k08 = [0.565,0.45,0.35,0.29,0.25,0.225,0.21, 0.195,0.205,0.17,0.145,0.135,0.125,0.115,0.10,0.095,0.085,0.08,0.08, 0.07,0.065,0.055,0.055,0.04,0.035, 0.045,0.02,0.017, 0.01,0.008,0.006,0.005,0.004,0.004,0.004,0.003]

# ---------------- (l) Trimmed Mean, row 3
l01 = [0.61,0.58,0.575,0.575,0.585,0.57,0.545, 0.495,0.49,0.455,0.385,0.30,0.245,0.21,0.19,0.165,0.155,0.13,0.115, 0.085,0.065,0.055,0.048,0.05,0.06, 0.035,0.025,0.02, 0.012,0.01,0.007,0.006,0.006,0.005,0.005,0.005]
l02 = [0.625,0.585,0.535,0.48,0.43,0.39,0.35, 0.295,0.26,0.235,0.22,0.215,0.215,0.22,0.215,0.21,0.205,0.20,0.20, 0.20,0.20,0.193,0.19,0.195,0.19, 0.195,0.19,0.185, 0.195,0.19,0.19,0.185,0.19,0.185,0.175,0.18]
l03 = [0.53,0.31,0.27,0.25,0.245,0.24,0.24, 0.27,0.29,0.27,0.245,0.265,0.255,0.26,0.285,0.255,0.25,0.24,0.26, 0.235,0.225,0.228,0.225,0.245,0.235, 0.24,0.225,0.225, 0.225,0.225,0.23,0.225,0.245,0.23,0.23,0.225]
l04 = [0.67,0.655,0.64,0.62,0.605,0.59,0.575, 0.545,0.525,0.51,0.505,0.50,0.49,0.48,0.47,0.465,0.46,0.455,0.45, 0.445,0.44,0.435,0.43,0.422,0.418, 0.412,0.408,0.40, 0.398,0.395,0.393,0.39,0.388,0.386,0.385,0.385]
l05 = [0.655,0.645,0.63,0.615,0.60,0.575,0.55, 0.51,0.515,0.49,0.45,0.385,0.365,0.35,0.345,0.325,0.32,0.31,0.28, 0.245,0.225,0.23,0.23,0.30,0.305, 0.26,0.255,0.27, 0.265,0.265,0.275,0.235,0.25,0.23,0.255,0.235]
l06 = [0.665,0.65,0.63,0.61,0.59,0.56,0.53, 0.45,0.38,0.345,0.32,0.29,0.265,0.255,0.29,0.24,0.225,0.205,0.185, 0.178,0.17,0.168,0.17,0.165,0.17, 0.175,0.18,0.185, 0.20,0.195,0.215,0.22,0.245,0.26,0.25,0.25]
l07 = [0.655,0.64,0.625,0.605,0.59,0.555,0.52, 0.44,0.38,0.32,0.305,0.29,0.27,0.255,0.28,0.225,0.215,0.20,0.18, 0.172,0.17,0.17,0.17,0.172,0.175, 0.175,0.18,0.19, 0.20,0.20,0.215,0.21,0.24,0.255,0.255,0.245]
l08 = [0.59,0.50,0.42,0.34,0.28,0.245,0.22, 0.20,0.19,0.175,0.165,0.16,0.155,0.15,0.135,0.125,0.115,0.11,0.105, 0.10,0.09,0.085,0.08,0.075,0.065, 0.055,0.048,0.04, 0.03,0.023,0.017,0.013,0.01,0.009,0.008,0.007]

PANEL_SERIES = [
    [a01, a02, a03, a04, a05, a06, a07, a08],
    [b01, b02, b03, b04, b05, b06, b07, b08],
    [c01, c02, c03, c04, c05, c06, c07, c08],
    [d01, d02, d03, d04, d05, d06, d07, d08],
    [e01, e02, e03, e04, e05, e06, e07, e08],
    [f01, f02, f03, f04, f05, f06, f07, f08],
    [g01, g02, g03, g04, g05, g06, g07, g08],
    [h01, h02, h03, h04, h05, h06, h07, h08],
    [i01, i02, i03, i04, i05, i06, i07, i08],
    [j01, j02, j03, j04, j05, j06, j07, j08],
    [k01, k02, k03, k04, k05, k06, k07, k08],
    [l01, l02, l03, l04, l05, l06, l07, l08],
]

# ---------------- layout (pixel boxes: left, top, right, bottom)
W, H = 3670, 2662
BOXES = [
    (90, 223, 867, 759), (1001, 215, 1797, 763), (1940, 217, 2727, 761), (2874, 226, 3641, 753),
    (88, 1040, 867, 1575), (1000, 1038, 1786, 1581), (1935, 1032, 2735, 1584), (2870, 1047, 3638, 1575),
    (89, 1868, 862, 2401), (1002, 1860, 1791, 2403), (1937, 1861, 2723, 2403), (2868, 1871, 3621, 2396),
]
Y_STEPS = [0.2, 0.1, 0.1, 0.1, 0.1, 0.1, 0.1, 0.1, 0.2, 0.2, 0.1, 0.1]
LEGEND_LOCS = ["upper right", "lower left", "upper right", "upper right",
               "upper right", "lower left", "upper right", "upper right",
               "upper right", "upper right", "upper right", "upper right"]
TITLE_X = [450, 1388, 2305, 3225]
LABEL_Y = [920, 1743, 2565]
DIVIDER_X = [903, 1840, 2774]

fig = plt.figure(figsize=(W / 100, H / 100), dpi=100)
fig.patch.set_facecolor("white")
colors = plt.rcParams["axes.prop_cycle"].by_key()["color"]
xs = np.array(X, dtype=float)

for p, (box, series) in enumerate(zip(BOXES, PANEL_SERIES)):
    l, t, r, b = box
    ax = fig.add_axes([l / W, 1 - b / H, (r - l) / W, (b - t) / H])
    for s, y in enumerate(series):
        yy = np.array(y, dtype=float)
        n = min(len(xs), len(yy))
        ax.plot(xs[:n], yy[:n], color=colors[s], lw=2.4, label=CLIENTS[s])
    ax.xaxis.set_major_locator(MultipleLocator(20))
    ax.yaxis.set_major_locator(MultipleLocator(Y_STEPS[p]))
    ax.grid(True, color="#c0c0c0", lw=1.7)
    ax.set_axisbelow(True)
    ax.tick_params(labelsize=13, colors="#333333", length=5, width=1.2)
    for sp in ax.spines.values():
        sp.set_linewidth(1.8)
        sp.set_color("#333333")
    ax.legend(loc=LEGEND_LOCS[p], fontsize=14, handlelength=2.1)
    col = p % 4
    row = p // 4
    fig.text(TITLE_X[col] / W, 1 - LABEL_Y[row] / H, PANEL_LABELS[p],
             ha="center", va="center", fontsize=48, fontweight="bold",
             family="Liberation Serif")

for c, title in enumerate(COLUMN_TITLES):
    fig.text(TITLE_X[c] / W, 1 - 101 / H, title, ha="center", va="center",
             fontsize=56, fontweight="bold", family="Liberation Serif")

for xd in DIVIDER_X:
    fig.add_artist(plt.Line2D([xd / W, xd / W], [1 - 23 / H, 1 - 2626 / H],
                              transform=fig.transFigure, color="black", lw=3))

fig.savefig("out.png", dpi=100, facecolor="white")
